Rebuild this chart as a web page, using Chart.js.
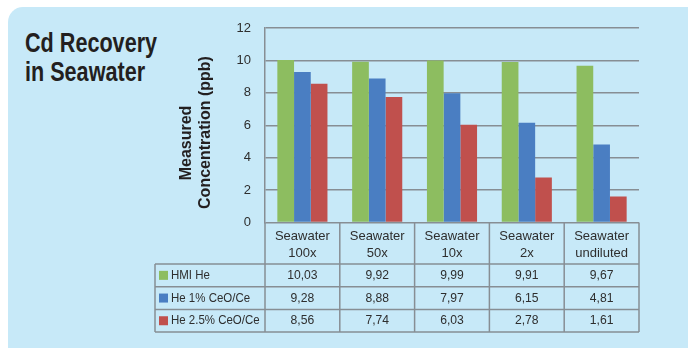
<!DOCTYPE html>
<html>
<head>
<meta charset="utf-8">
<script src="https://cdn.jsdelivr.net/npm/chart.js@4.4.1/dist/chart.umd.min.js"></script>
<style>
  html, body { margin: 0; padding: 0; background: #ffffff; }
  #wrap { position: relative; width: 688px; height: 348px; overflow: hidden; background: #ffffff; }
  #panel { position: absolute; left: 8px; top: 7px; width: 694px; height: 356px; background: #c7e9f8; border-radius: 15px; }
  #title { position: absolute; left: 25px; top: 29px; font-family: "Liberation Sans", Arial, sans-serif; font-weight: bold; font-size: 27px; line-height: 29px; color: #231f20; transform: scaleX(0.8); transform-origin: left top; white-space: nowrap; }
  #c { position: absolute; left: 0; top: 0; }
</style>
</head>
<body>
<div id="wrap">
  <div id="panel"></div>
  <div id="title">Cd Recovery<br>in Seawater</div>
  <canvas id="c" width="688" height="348"></canvas>
</div>
<script>
const categories = [["Seawater", "100x"], ["Seawater", "50x"], ["Seawater", "10x"], ["Seawater", "2x"], ["Seawater", "undiluted"]];
const seriesNames = ["HMI He", "He 1% CeO/Ce", "He 2.5% CeO/Ce"];
const hmiHe = [10.03, 9.92, 9.99, 9.91, 9.67];
const he1CeO = [9.28, 8.88, 7.97, 6.15, 4.81];
const he25CeO = [8.56, 7.74, 6.03, 2.78, 1.61];
const yTicks = [0, 2, 4, 6, 8, 10, 12];
const yTitle = ["Measured", "Concentration (ppb)"];
const colors = ["#8dbd60", "#4a7ec2", "#c0504d"];

const FONT = '"Liberation Sans", Arial, sans-serif';
const LINE = "#878e94";
const TEXT = "#2e2e2e";

const yTitlePlugin = {
  id: "yTitle",
  afterDraw(chart) {
    const ctx = chart.ctx;
    ctx.save();
    ctx.font = "bold 16px " + FONT;
    ctx.fillStyle = "#231f20";
    ctx.textAlign = "center";
    ctx.textBaseline = "middle";
    const pos = [[187, 143], [206, 132.5]];
    yTitle.forEach((t, i) => {
      ctx.save();
      ctx.translate(pos[i][0], pos[i][1]);
      ctx.rotate(-Math.PI / 2);
      ctx.fillText(t, 0, 0);
      ctx.restore();
    });
    ctx.restore();
  }
};

const tablePlugin = {
  id: "dataTable",
  afterDraw(chart) {
    const ctx = chart.ctx;
    const xs = chart.scales.x;
    const area = chart.chartArea;
    const n = categories.length;
    const half = (xs.getPixelForValue(1) - xs.getPixelForValue(0)) / 2;
    const legendLeft = 155;
    const headerTop = area.bottom;
    const headerBottom = xs.bottom;
    const rowH = 22.7;
    const rows = chart.data.datasets.length;
    const tableBottom = headerBottom + rows * rowH;
    const right = xs.getPixelForValue(n - 1) + half;
    ctx.save();
    ctx.strokeStyle = LINE;
    ctx.lineWidth = 1.5;
    ctx.beginPath();
    for (let i = 0; i <= n; i++) {
      const x = (i < n ? xs.getPixelForValue(i) - half : right);
      ctx.moveTo(x, headerTop);
      ctx.lineTo(x, tableBottom);
    }
    ctx.moveTo(legendLeft, headerBottom);
    ctx.lineTo(legendLeft, tableBottom);
    for (let r = 0; r <= rows; r++) {
      const y = headerBottom + r * rowH;
      ctx.moveTo(legendLeft, y);
      ctx.lineTo(right, y);
    }
    ctx.stroke();

    ctx.font = "13.5px " + FONT;
    ctx.textBaseline = "middle";
    const sx = 0.9;
    const sl = 0.85;
    chart.data.datasets.forEach((ds, r) => {
      const cy = headerBottom + r * rowH + rowH / 2;
      ctx.fillStyle = ds.backgroundColor;
      ctx.fillRect(legendLeft + 4, cy - 4.5, 9, 9);
      ctx.fillStyle = TEXT;
      ctx.save();
      ctx.scale(sl, 1);
      ctx.textAlign = "left";
      ctx.fillText(ds.label, (legendLeft + 16) / sl, cy);
      ctx.restore();
      ctx.save();
      ctx.scale(sx, 1);
      ctx.textAlign = "center";
      ds.data.forEach((v, i) => {
        ctx.fillText(v.toFixed(2).replace(".", ","), xs.getPixelForValue(i) / sx, cy);
      });
      ctx.restore();
    });
    ctx.restore();
  }
};

new Chart(document.getElementById("c"), {
  type: "bar",
  data: {
    labels: categories,
    datasets: [
      { label: seriesNames[0], data: hmiHe, backgroundColor: colors[0] },
      { label: seriesNames[1], data: he1CeO, backgroundColor: colors[1] },
      { label: seriesNames[2], data: he25CeO, backgroundColor: colors[2] }
    ]
  },
  options: {
    responsive: false,
    animation: false,
    devicePixelRatio: 1,
    layout: { padding: { left: 178, right: 49, top: 28, bottom: 84 } },
    datasets: { bar: { categoryPercentage: 0.67, barPercentage: 1.0, borderWidth: 0 } },
    plugins: { legend: { display: false }, tooltip: { enabled: false }, title: { display: false } },
    scales: {
      x: {
        grid: { display: false, drawTicks: false },
        border: { display: false },
        ticks: { font: { family: FONT, size: 13, lineHeight: 1.28 }, color: TEXT, padding: 6, maxRotation: 0, autoSkip: false },
        afterFit(s) { s.height = 41.5; }
      },
      y: {
        min: 0, max: 12,
        afterBuildTicks(s) { s.ticks = yTicks.map(v => ({ value: v })); },
        grid: { color: LINE, lineWidth: 1.5, drawTicks: false },
        border: { display: true, color: LINE, width: 1.5 },
        ticks: { font: { family: FONT, size: 13 }, color: TEXT, padding: 14 },
        title: { display: false },
        afterFit(s) { s.width = 87; }
      }
    }
  },
  plugins: [tablePlugin, yTitlePlugin]
});
</script>
</body>
</html>
